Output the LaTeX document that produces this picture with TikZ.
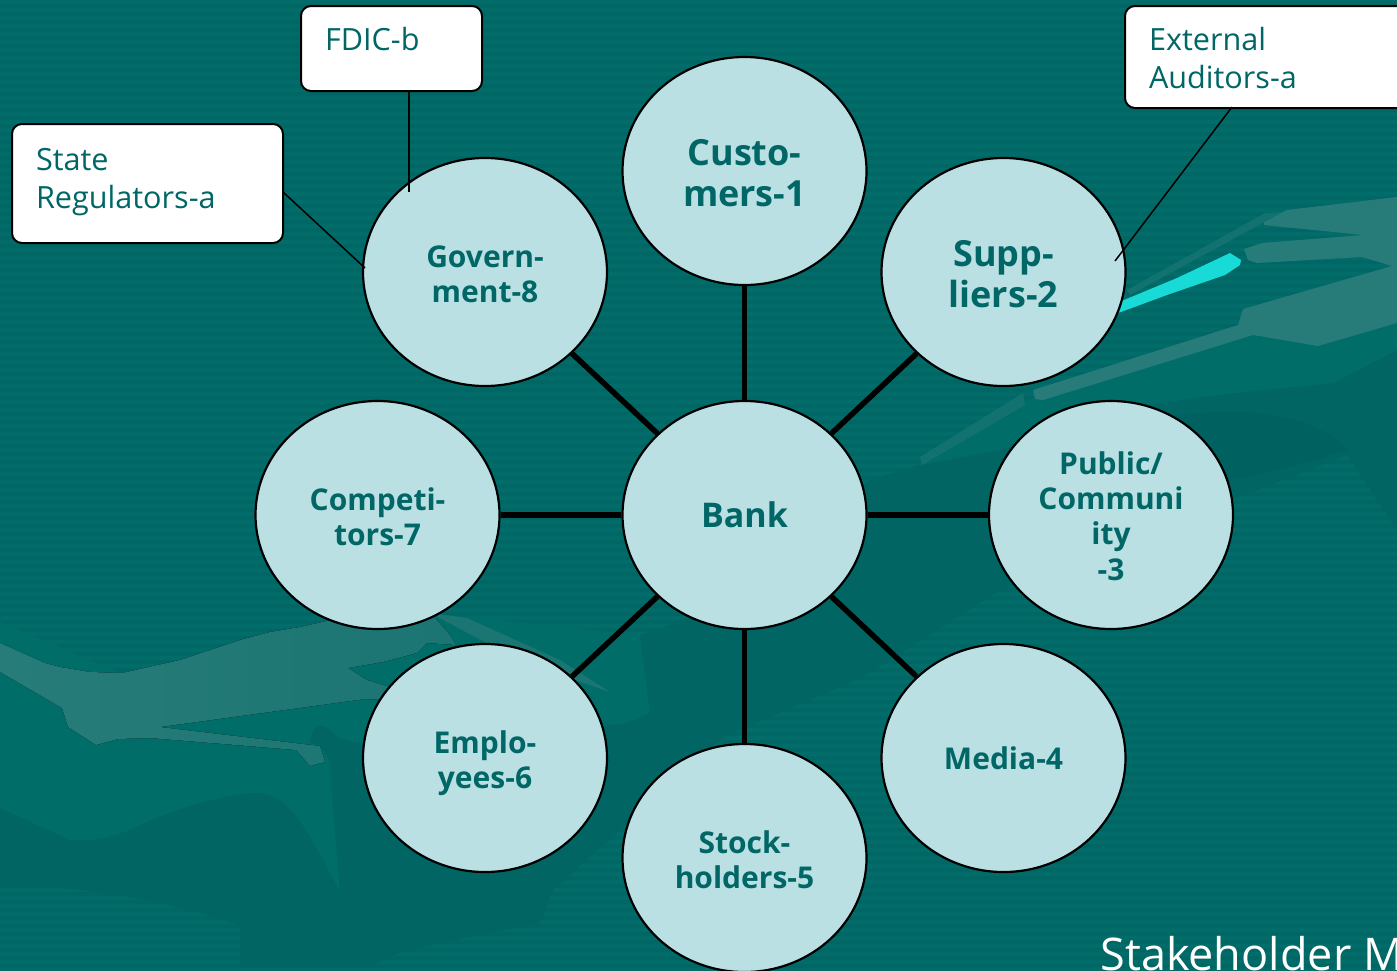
\documentclass[tikz,border=0pt]{standalone}
\usepackage{fontspec}
\usetikzlibrary{shapes.geometric}
\setmainfont{Open Sans}
\definecolor{basebg}{HTML}{006764}
\definecolor{stripebg}{HTML}{016C69}
\definecolor{midbg}{HTML}{006D69}
\definecolor{darkbg}{HTML}{006563}
\definecolor{deepbg}{HTML}{006260}
\definecolor{lightA}{HTML}{277C79}
\definecolor{lightB}{HTML}{1B7572}
\definecolor{faint}{HTML}{12726F}
\definecolor{cyanwing}{HTML}{18DAD6}
\definecolor{nodefill}{HTML}{BBE0E3}
\definecolor{inktext}{HTML}{006666}
\newsavebox\firstline
\newcommand\dropline[2]{\sbox\firstline{#2}\rule{0pt}{\dimexpr\ht\firstline+#1\relax}#2}
\tikzset{
  hub/.style={ellipse,draw=black,line width=1.1pt,fill=nodefill,text=inktext,
    minimum width=122pt,minimum height=114pt,inner sep=0pt,align=center},
  bigtxt/.style={font=\fontsize{18}{20.7}\selectfont\bfseries},
  midtxt/.style={font=\fontsize{15}{17.7}\selectfont\bfseries},
  spoke/.style={draw=black,line width=2.75pt},
  thinline/.style={draw=black,line width=0.75pt},
  tag/.style={rectangle,rounded corners=5pt,draw=black,line width=1pt,fill=white,text=inktext,
    anchor=north west,inner xsep=12pt,inner ysep=0pt,align=left,
    font=\fontsize{15.3}{19}\selectfont}
}
\begin{document}
\begin{tikzpicture}[x=0.5pt,y=-0.5pt]
\useasboundingbox (0,0) rectangle (1397,970);
\clip (0,0) rectangle (1397,970);
% background
\fill[basebg] (0,0) rectangle (1397,970);
\foreach \yy in {0,8,...,968}{\fill[stripebg] (0,\yy) rectangle (1397,\yy+4);}
% middle band, left
\fill[midbg] (0,622) -- (0,808) -- (70,840) .. controls (90,842) and (110,838) .. (130,830)
  .. controls (170,810) and (220,795) .. (255,793) .. controls (285,793) and (300,815) .. (340,892)
  -- (328,760) -- (627,723) -- (650,713) -- (640,635) -- (420,612) -- (120,673) -- cycle;
% dark lower area
\fill[darkbg] (0,808) -- (70,840) .. controls (90,842) and (110,838) .. (130,830)
  .. controls (170,810) and (220,795) .. (255,793) .. controls (285,793) and (300,815) .. (340,892)
  -- (330,760) -- (320,745) -- (310,742) .. controls (312,722) and (325,722) .. (335,735)
  .. controls (350,745) and (380,745) .. (420,750) -- (627,723) -- (650,713) -- (640,635) -- (744,600)
  -- (870,480) -- (920,465) -- (1000,450) -- (1113,410) -- (1200,397) -- (1283,388) -- (1333,383) -- (1397,350)
  -- (1397,530) -- (1347,455) -- (1000,590) -- (863,677) -- (723,737) -- (553,890) -- (540,923)
  -- (407,950) -- (370,965) -- (240,965) -- (240,925) .. controls (150,895) and (60,885) .. (0,885) -- cycle;
% middle band, right
\fill[midbg] (920,465) -- (1033,398) -- (1253,335) -- (1318,346) -- (1397,323) -- (1397,350)
  -- (1333,383) -- (1283,388) -- (1200,397) -- (1113,410) -- (1000,450) -- cycle;
\fill[deepbg] (1150,420) .. controls (1260,400) and (1320,420) .. (1347,450)
  -- (1280,470) -- (1180,490) -- (1130,490) -- cycle;
% light silhouettes
\fill[left color=lightA,right color=lightB] (0,643) -- (45,663) -- (60,667) -- (90,672) -- (122,673)
  -- (180,660) -- (240,640) -- (270,632) -- (300,627) -- (340,618) -- (430,612) -- (450,635) -- (456,645)
  -- (427,643) -- (417,653) -- (383,662) -- (348,668) -- (367,680) -- (400,690) -- (385,700) -- (365,699)
  -- (160,727) -- (320,746) -- (325,762) -- (310,766) -- (296,750) -- (150,738) -- (118,739)
  -- (96,745) -- (68,727) -- (62,708) -- (0,672) -- cycle;
\fill[lightB] (430,613) -- (467,618) -- (560,660) -- (610,692) -- (575,680) -- (500,650) -- cycle;
\fill[lightA] (1397,197) -- (1287,210) -- (1264,220) -- (1264,225) -- (1363,235) -- (1262,243)
  -- (1244,249) -- (1248,260) -- (1257,263) -- (1362,257) -- (1392,266) -- (1243,309) -- (1238,325)
  -- (1033,390) -- (1035,399) -- (1043,400) -- (1253,335) -- (1318,346) -- (1397,323) -- cycle;
\fill[faint] (920,457) -- (1023,393) -- (1025,405) -- (922,465) -- cycle;
\fill[faint] (1127,290) -- (1265,213) -- (1283,212) -- (1130,295) -- cycle;
% cyan wing
\fill[cyanwing] (1230,253) -- (1241,260) -- (1240,265) -- (1225,275) -- (1167,295) -- (1110,316)
  -- (1112,305) -- (1177,278) -- cycle;
% nodes
\node[hub,font=\fontsize{17}{20}\selectfont\bfseries] (bank) at (744.5,515) {Bank};
\node[hub,bigtxt] (cust) at (744.5,171) {\dropline{2pt}{Custo-}\\mers-1};
\node[hub,bigtxt] (supp) at (1003.5,272) {\dropline{2pt}{Supp-}\\liers-2};
\node[hub,midtxt] (pub) at (1111,515) {\dropline{1pt}{Public/}\\Communi\\ity\\-3};
\node[hub,midtxt] (media) at (1003.5,758) {Media-4};
\node[hub,midtxt] (stock) at (744.5,858) {\dropline{2pt}{Stock-}\\holders-5};
\node[hub,midtxt] (empl) at (485,758) {\dropline{5pt}{Emplo-}\\yees-6};
\node[hub,midtxt] (comp) at (377.5,515) {\dropline{1.5pt}{Competi-}\\tors-7};
\node[hub,midtxt] (gov) at (485,272) {\dropline{2pt}{Govern-}\\ment-8};
% spokes
\foreach \tgt in {cust,supp,pub,media,stock,empl,comp,gov}{\draw[spoke] (bank) -- (\tgt);}
% tags
\node[tag,text width=66.5pt,text height=22.25pt,text depth=20.25pt] (fdic) at (300,5) {FDIC-b};
\node[tag,text width=111.5pt,text height=23.25pt,text depth=36.25pt] (state) at (11,123) {State\\Regulators-a};
\node[tag,text width=120.5pt,text height=22.25pt,text depth=28.75pt] (ext) at (1124,5) {External\\Auditors-a};
% thin connectors
\coordinate (fdicend) at (409,192);
\coordinate (stateout) at (283,192);
\coordinate (stateend) at (365,268);
\coordinate (extout) at (1232,107);
\coordinate (extend) at (1115,261);
\draw[thinline] (fdic.south -| fdicend) -- (fdicend);
\draw[thinline] (stateout) -- (stateend);
\draw[thinline] (extout) -- (extend);
% caption
\node[anchor=base west,inner sep=0pt,text=white,font=\fontsize{22.5}{26}\selectfont] (cap) at (1100,970) {Stakeholder M};
\end{tikzpicture}
\end{document}
